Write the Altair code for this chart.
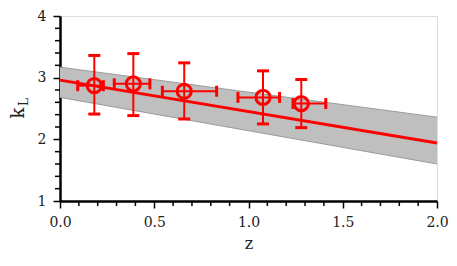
import altair as alt
import pandas as pd

# data points
z = [0.182, 0.389, 0.659, 1.077, 1.280]
k = [2.87, 2.90, 2.78, 2.68, 2.58]
k_lo = [2.41, 2.385, 2.33, 2.25, 2.19]
k_hi = [3.36, 3.39, 3.24, 3.11, 2.97]
z_lo = [0.094, 0.288, 0.543, 0.944, 1.236]
z_hi = [0.230, 0.477, 0.831, 1.165, 1.410]

# fit line and band (linear, endpoints)
fit_z = [0.0, 2.0]
fit_k = [2.96, 1.94]
band_lo = [2.68, 1.60]
band_hi = [3.17, 2.36]

x_major = [0.0, 0.5, 1.0, 1.5, 2.0]
x_minor = [0.1, 0.2, 0.3, 0.4, 0.6, 0.7, 0.8, 0.9, 1.1, 1.2, 1.3, 1.4, 1.6, 1.7, 1.8, 1.9]
y_major = [1, 2, 3, 4]
y_minor = [1.2, 1.4, 1.6, 1.8, 2.2, 2.4, 2.6, 2.8, 3.2, 3.4, 3.6, 3.8]

W, H = 377, 185
RED = "#ff0000"
FONT = "DejaVu Serif"

pts = pd.DataFrame({"z": z, "k": k, "klo": k_lo, "khi": k_hi, "zlo": z_lo, "zhi": z_hi})
fit = pd.DataFrame({"z": fit_z, "k": fit_k, "lo": band_lo, "hi": band_hi})

xs = alt.Scale(domain=[0, 2], nice=False, zero=False)
ys = alt.Scale(domain=[1, 4], nice=False, zero=False)

xax = alt.Axis(values=x_major, format=".1f", title="z", grid=False, tickSize=7,
               tickWidth=1.5, domainWidth=2.5, domainColor="black", tickColor="black",
               labelFont=FONT, labelFontSize=14, labelColor="#222", labelPadding=7,
               titleFont=FONT, titleFontSize=16, titleFontWeight="normal",
               titleColor="#222", titlePadding=6, labelFlush=False)
yax = alt.Axis(values=y_major, format="d", title=None, grid=False, tickSize=7,
               tickWidth=1.5, domainWidth=2.5, domainColor="black", tickColor="black",
               labelFont=FONT, labelFontSize=14, labelColor="#222", labelPadding=7,
               labelFlush=False)

band = alt.Chart(fit).mark_area(color="#bfbfbf", opacity=1).encode(
    x=alt.X("z:Q", scale=xs, axis=xax), y=alt.Y("lo:Q", scale=ys, axis=yax), y2="hi:Q")
band_lo_l = alt.Chart(fit).mark_line(color="#9a9a9a", strokeWidth=1).encode(x="z:Q", y="lo:Q")
band_hi_l = alt.Chart(fit).mark_line(color="#9a9a9a", strokeWidth=1).encode(x="z:Q", y="hi:Q")
line = alt.Chart(fit).mark_line(color=RED, strokeWidth=3).encode(x="z:Q", y="k:Q")

yerr = alt.Chart(pts).mark_rule(color=RED, strokeWidth=2, opacity=1).encode(x="z:Q", y="klo:Q", y2="khi:Q")
xerr = alt.Chart(pts).mark_rule(color=RED, strokeWidth=2, opacity=1).encode(x="zlo:Q", x2="zhi:Q", y="k:Q")
tick_kw = dict(color=RED, thickness=3, opacity=1)
cap_lo = alt.Chart(pts).mark_tick(orient="horizontal", size=12, **tick_kw).encode(x="z:Q", y="klo:Q")
cap_hi = alt.Chart(pts).mark_tick(orient="horizontal", size=12, **tick_kw).encode(x="z:Q", y="khi:Q")
capx_lo = alt.Chart(pts).mark_tick(orient="vertical", size=11, **tick_kw).encode(x="zlo:Q", y="k:Q")
capx_hi = alt.Chart(pts).mark_tick(orient="vertical", size=11, **tick_kw).encode(x="zhi:Q", y="k:Q")
circ = alt.Chart(pts).mark_point(shape="circle", filled=False, color=RED, size=200,
                                 strokeWidth=3, opacity=1).encode(x="z:Q", y="k:Q")

xmin = alt.Chart(pd.DataFrame({"v": x_minor})).mark_rule(color="black", strokeWidth=1.5, clip=False).encode(
    x="v:Q", y=alt.value(H), y2=alt.value(H + 5))
ymin = alt.Chart(pd.DataFrame({"v": y_minor})).mark_rule(color="black", strokeWidth=1.5, clip=False).encode(
    y="v:Q", x=alt.value(0), x2=alt.value(-5))

tk = alt.Chart(pd.DataFrame({"t": ["k"]})).mark_text(
    font=FONT, fontSize=18, angle=270, color="#222", baseline="alphabetic", align="center"
).encode(text="t:N", x=alt.value(-36), y=alt.value(97))
tl = alt.Chart(pd.DataFrame({"t": ["L"]})).mark_text(
    font=FONT, fontSize=12, angle=270, color="#222", baseline="alphabetic", align="center"
).encode(text="t:N", x=alt.value(-32), y=alt.value(86))

chart = alt.layer(band, band_lo_l, band_hi_l, line, yerr, xerr, cap_lo, cap_hi,
                  capx_lo, capx_hi, circ, xmin, ymin, tk, tl).properties(
    width=W, height=H, autosize="none",
    padding={"left": 52, "top": 8, "right": 12, "bottom": 50},
).configure_view(stroke="black", strokeWidth=2.5).configure(background="white")

chart.save("out.html", embed_options={"renderer": "svg", "actions": False})
